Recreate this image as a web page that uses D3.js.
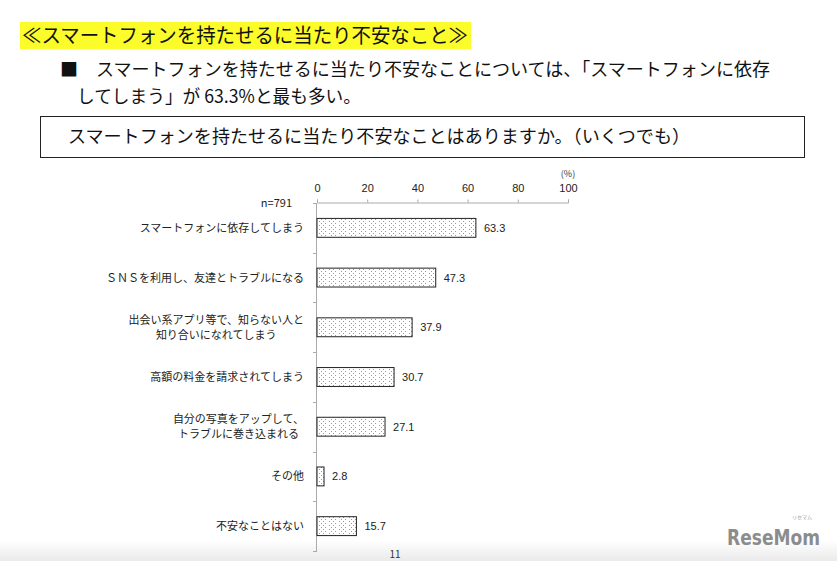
<!DOCTYPE html>
<html><head><meta charset="utf-8">
<script src="https://cdn.jsdelivr.net/npm/d3@7"></script>
<style>
body{margin:0;background:#fff;}
svg{display:block;font-family:"Noto Sans CJK JP","Noto Sans",sans-serif;}
</style></head>
<body>
<svg id="c" width="837" height="561"></svg>
<script>
const categories = [
  ["スマートフォンに依存してしまう"],
  ["ＳＮＳを利用し、友達とトラブルになる"],
  ["出会い系アプリ等で、知らない人と","知り合いになれてしまう"],
  ["高額の料金を請求されてしまう"],
  ["自分の写真をアップして、","トラブルに巻き込まれる"],
  ["その他"],
  ["不安なことはない"]
];
const values = [63.3, 47.3, 37.9, 30.7, 27.1, 2.8, 15.7];
const tickValues = [0, 20, 40, 60, 80, 100];
const sampleLabel = "n=791";
const unitLabel = "(%)";
const titleText = "≪スマートフォンを持たせるに当たり不安なこと≫";
const summaryLines = ["■　スマートフォンを持たせるに当たり不安なことについては、「スマートフォンに依存", "してしまう」が 63.3%と最も多い。"];
const questionText = "スマートフォンを持たせるに当たり不安なことはありますか。（いくつでも）";

const svg = d3.select("#c");

const defs = svg.append("defs");
const g1 = defs.append("linearGradient").attr("id","bg").attr("x1",0).attr("y1",0).attr("x2",0).attr("y2",1);
g1.append("stop").attr("offset","0%").attr("stop-color","#fff");
g1.append("stop").attr("offset","100%").attr("stop-color","#eaeaea");
svg.append("rect").attr("x",0).attr("y",540).attr("width",837).attr("height",21).attr("fill","url(#bg)");

const pat = defs.append("pattern").attr("id","dots").attr("patternUnits","userSpaceOnUse")
  .attr("width",10).attr("height",4).attr("x",317).attr("y",0);
pat.append("rect").attr("width",10).attr("height",4).attr("fill","#fff");
[[2,1],[4,3],[6,1],[8,3]].forEach(([px,py])=>{
  pat.append("rect").attr("x",px).attr("y",py).attr("width",1).attr("height",1).attr("fill","#9a9a9a");
});

// title
svg.append("rect").attr("x",20).attr("y",22).attr("width",451).attr("height",27).attr("fill","#fcfc2a");
svg.append("text").attr("x",22).attr("y",43).attr("font-size",20).attr("fill","#111")
  .attr("textLength",446).attr("lengthAdjust","spacingAndGlyphs").text(titleText);
svg.append("text").attr("x",60).attr("y",76).attr("font-size",18).attr("fill","#111")
  .attr("textLength",710).attr("lengthAdjust","spacingAndGlyphs").text(summaryLines[0]);
svg.append("text").attr("x",77).attr("y",103).attr("font-size",18).attr("fill","#111")
  .attr("textLength",284).attr("lengthAdjust","spacingAndGlyphs").text(summaryLines[1]);

// question box
svg.append("rect").attr("x",40.5).attr("y",116.5).attr("width",764).attr("height",41).attr("fill","none").attr("stroke","#222").attr("stroke-width",1);
svg.append("text").attr("x",68).attr("y",143).attr("font-size",18).attr("fill","#111")
  .attr("textLength",622).attr("lengthAdjust","spacingAndGlyphs").text(questionText);

// chart
const x = d3.scaleLinear().domain([0,100]).range([317,568]);
const y = d3.scaleBand().domain(d3.range(categories.length)).range([203,551]).paddingInner(0.62).paddingOuter(0.31);

const xAxis = svg.append("g").attr("transform","translate(0,202.5)")
  .call(d3.axisTop(x).tickValues(tickValues).tickSize(3).tickPadding(5));
xAxis.select(".domain").attr("stroke","#aaa");
xAxis.selectAll(".tick line").attr("stroke","#aaa");
xAxis.selectAll(".tick text").attr("font-size",11).attr("fill","#222").attr("font-family","Liberation Sans, sans-serif").attr("dy","-0.2em");
svg.append("text").attr("x",x(100)).attr("y",177).attr("text-anchor","middle").attr("font-size",9).attr("fill","#333").text(unitLabel);

svg.append("line").attr("x1",x(0)-0.5).attr("x2",x(0)-0.5).attr("y1",203).attr("y2",551).attr("stroke","#aaa");
d3.range(categories.length+1).forEach(i=>{
  const yy = Math.round(203 + i*(348/categories.length))+0.5;
  svg.append("line").attr("x1",x(0)-4).attr("x2",x(0)).attr("y1",yy).attr("y2",yy).attr("stroke","#aaa");
});

svg.append("text").attr("x",292).attr("y",207).attr("text-anchor","end").attr("font-size",11).attr("fill","#222").text(sampleLabel);

const rows = svg.append("g").selectAll("g").data(values).join("g");
rows.append("rect").attr("x",x(0)).attr("y",(d,i)=>y(i)).attr("width",d=>x(d)-x(0)).attr("height",y.bandwidth())
  .attr("fill","url(#dots)").attr("stroke","#222").attr("stroke-width",1);
rows.append("text").attr("x",d=>x(d)+8).attr("y",(d,i)=>y(i)+y.bandwidth()/2+4).attr("font-size",11).attr("fill","#222")
  .attr("font-family","Liberation Sans, sans-serif").text(d=>d.toFixed(1));

const labelRight = 304;
categories.forEach((lines,i)=>{
  const cy = y(i)+y.bandwidth()/2;
  const t = svg.append("text").attr("text-anchor","middle").attr("font-size",11).attr("fill","#222");
  const off = (lines.length-1)*7.5;
  const spans = lines.map((l,j)=>t.append("tspan").attr("y",cy+4-off+j*15).text(l));
  const maxW = d3.max(spans, s=>s.node().getComputedTextLength());
  spans.forEach(s=>s.attr("x",labelRight-maxW/2));
});

svg.append("text").attr("x",395).attr("y",558).attr("text-anchor","middle").attr("font-size",10).attr("fill","#333").text("11");

// watermark
svg.append("text").attr("x",727).attr("y",545).attr("font-size",22).attr("font-weight","bold")
  .attr("font-family","DejaVu Sans Condensed, DejaVu Sans, sans-serif").attr("fill","#8c8c8c")
  .attr("textLength",93).attr("lengthAdjust","spacingAndGlyphs").text("ReseMom");
svg.append("text").attr("x",812).attr("y",519).attr("text-anchor","end").attr("font-size",5).attr("fill","#999").text("リセマム");
</script>
</body></html>
